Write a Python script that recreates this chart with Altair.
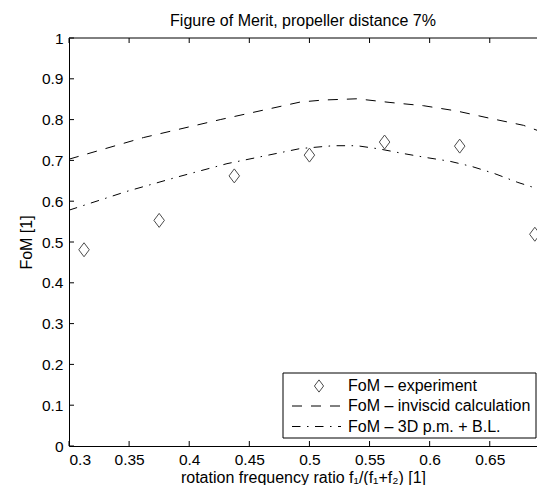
import altair as alt
import pandas as pd

# ---- data ----
exp_x = [0.3125, 0.375, 0.4375, 0.5, 0.5625, 0.625, 0.6875]
exp_y = [0.481, 0.553, 0.662, 0.713, 0.745, 0.735, 0.519]

inv_x = [0.3, 0.362, 0.4258, 0.4923, 0.5117, 0.5395, 0.567, 0.595, 0.6227, 0.6504, 0.678, 0.6957]
inv_y = [0.703, 0.756, 0.800, 0.843, 0.848, 0.851, 0.842, 0.834, 0.821, 0.803, 0.786, 0.767]

pm_x = [0.3, 0.348, 0.3898, 0.4314, 0.4923, 0.5198, 0.5395, 0.5583, 0.5778, 0.5972, 0.6166, 0.6352, 0.6537, 0.6734, 0.6957]
pm_y = [0.578, 0.624, 0.659, 0.692, 0.729, 0.736, 0.736, 0.728, 0.717, 0.707, 0.698, 0.685, 0.668, 0.646, 0.625]

x_ticks = [0.3, 0.35, 0.4, 0.45, 0.5, 0.55, 0.6, 0.65]
y_ticks = [0, 0.1, 0.2, 0.3, 0.4, 0.5, 0.6, 0.7, 0.8, 0.9, 1]

legend_labels = ["FoM – experiment", "FoM – inviscid calculation", "FoM – 3D p.m. + B.L."]

title_text = "Figure of Merit, propeller distance 7%"
x_title = "rotation frequency ratio f₁/(f₁+f₂) [1]"
y_title = "FoM [1]"

W, H = 468, 408
FONT = "Liberation Sans"
DIAMOND = "M0,-1L0.75,0L0,1L-0.75,0Z"

# visible x-range: the original axis runs slightly past the window edge
xs = alt.Scale(domain=[0.3, 0.6893], nice=False, zero=False)
ys = alt.Scale(domain=[0, 1], nice=False, zero=False)

exp_df = pd.DataFrame({"x": exp_x, "y": exp_y})
inv_df = pd.DataFrame({"x": inv_x, "y": inv_y})
pm_df = pd.DataFrame({"x": pm_x, "y": pm_y})
xt_df = pd.DataFrame({"x": x_ticks})
yt_df = pd.DataFrame({"y": y_ticks})
one = pd.DataFrame({"a": [0]})

x_axis = alt.Axis(values=x_ticks, format="~g", tickSize=0, grid=False,
                  labelPadding=6, titleY=36, titleBaseline="alphabetic")
y_axis = alt.Axis(values=y_ticks, format="~g", tickSize=0, grid=False,
                  labelPadding=6, titlePadding=7)

inv_line = alt.Chart(inv_df).mark_line(color="black", strokeWidth=1, strokeDash=[10, 9],
                                       clip=True).encode(
    x=alt.X("x:Q", scale=xs, axis=x_axis, title=x_title),
    y=alt.Y("y:Q", scale=ys, axis=y_axis, title=y_title),
)
pm_line = alt.Chart(pm_df).mark_line(color="black", strokeWidth=1, strokeDash=[8.5, 6.5, 1.5, 6.5],
                                     clip=True).encode(
    x=alt.X("x:Q", scale=xs),
    y=alt.Y("y:Q", scale=ys),
)
pts = alt.Chart(exp_df).mark_point(shape=DIAMOND, size=196, filled=False, color="black",
                                   strokeWidth=1).encode(
    x=alt.X("x:Q", scale=xs),
    y=alt.Y("y:Q", scale=ys),
)

# inward ticks (bottom, top, left) and the top frame line
tick_style = dict(color="black", strokeWidth=1)
xt_bottom = alt.Chart(xt_df).mark_rule(**tick_style).encode(
    x=alt.X("x:Q", scale=xs), y=alt.value(H - 5), y2=alt.value(H))
xt_top = alt.Chart(xt_df).mark_rule(**tick_style).encode(
    x=alt.X("x:Q", scale=xs), y=alt.value(0), y2=alt.value(5))
yt_left = alt.Chart(yt_df).mark_rule(**tick_style).encode(
    y=alt.Y("y:Q", scale=ys), x=alt.value(0), x2=alt.value(5))
top_line = alt.Chart(one).mark_rule(**tick_style).encode(
    x=alt.value(0), x2=alt.value(W), y=alt.value(0))

# legend (drawn by hand, MATLAB style)
lx0, lx1, ly0, ly1 = 214, 467, 335, 400
rows = [348, 368, 388.5]
leg_box = alt.Chart(one).mark_rect(fill="white", stroke="black", strokeWidth=1).encode(
    x=alt.value(lx0), x2=alt.value(lx1), y=alt.value(ly0), y2=alt.value(ly1))
leg_pt = alt.Chart(one).mark_point(shape=DIAMOND, size=150, filled=False, color="black",
                                   strokeWidth=1).encode(x=alt.value(lx0 + 36), y=alt.value(rows[0]))
leg_inv = alt.Chart(one).mark_rule(color="black", strokeWidth=1, strokeDash=[10, 9]).encode(
    x=alt.value(lx0 + 9), x2=alt.value(lx0 + 58), y=alt.value(rows[1]))
leg_pm = alt.Chart(one).mark_rule(color="black", strokeWidth=1, strokeDash=[8.5, 6.5, 1.5, 6.5]).encode(
    x=alt.value(lx0 + 9), x2=alt.value(lx0 + 58), y=alt.value(rows[2]))
leg_texts = [
    alt.Chart(one).mark_text(text=lab, align="left", baseline="middle", font=FONT,
                             fontSize=16, color="black").encode(x=alt.value(lx0 + 65), y=alt.value(r))
    for lab, r in zip(legend_labels, rows)
]

chart = alt.layer(
    inv_line, pm_line, pts, xt_bottom, xt_top, yt_left, top_line,
    leg_box, leg_pt, leg_inv, leg_pm, *leg_texts
).properties(
    width=W, height=H,
    background="white",
    title=alt.Title(title_text, font=FONT, fontSize=16, fontWeight="normal", color="black",
                    anchor="middle", offset=2),
    autosize=alt.AutoSizeParams(type="none"),
    padding={"left": 61, "top": 30, "right": 0, "bottom": 39},
).configure_axis(
    domainColor="black", domainWidth=1,
    labelFont=FONT, labelFontSize=15.5, labelColor="black",
    titleFont=FONT, titleFontSize=16, titleFontWeight="normal", titleColor="black",
).configure_view(
    stroke=None
)

chart.save("out.html", embed_options={"renderer": "svg", "actions": False})
